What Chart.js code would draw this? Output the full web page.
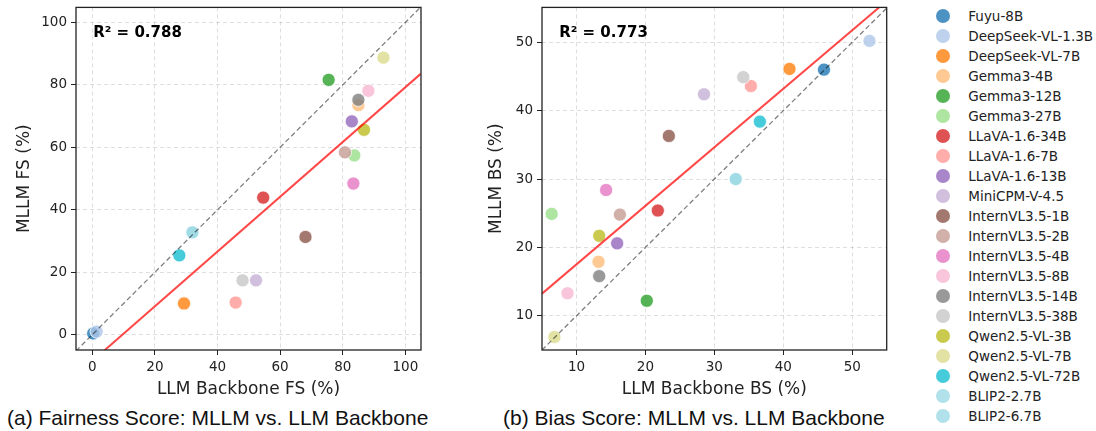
<!DOCTYPE html>
<html><head><meta charset="utf-8">
<script src="https://cdn.jsdelivr.net/npm/chart.js@4.4.1/dist/chart.umd.min.js"></script>
<style>
html,body{margin:0;padding:0;background:#fff;}
body{width:1096px;height:431px;position:relative;overflow:hidden;font-family:"DejaVu Sans",sans-serif;}
canvas{position:absolute;top:0;}
#c1{left:0;}
#c2{left:450px;}
.cap{position:absolute;top:405px;font-family:"Liberation Sans",Arial,sans-serif;font-size:21px;line-height:26px;color:#111;white-space:nowrap;}
#legend{position:absolute;left:930px;top:6px;}
.li{height:20.03px;display:flex;align-items:center;font-size:13.5px;color:#222;white-space:nowrap;}
.mk{width:14px;height:14px;border-radius:50%;margin-left:6.3px;margin-right:18px;flex:none;}
</style></head>
<body>
<canvas id="c1" width="440" height="400"></canvas>
<canvas id="c2" width="450" height="400"></canvas>
<div class="cap" style="left:7px">(a) Fairness Score: MLLM vs. LLM Backbone</div>
<div class="cap" style="left:503px">(b) Bias Score: MLLM vs. LLM Backbone</div>
<div id="legend"></div>
<script>
// ---- data ----
const models = ["Fuyu-8B","DeepSeek-VL-1.3B","DeepSeek-VL-7B","Gemma3-4B","Gemma3-12B","Gemma3-27B",
  "LLaVA-1.6-34B","LLaVA-1.6-7B","LLaVA-1.6-13B","MiniCPM-V-4.5","InternVL3.5-1B","InternVL3.5-2B",
  "InternVL3.5-4B","InternVL3.5-8B","InternVL3.5-14B","InternVL3.5-38B","Qwen2.5-VL-3B","Qwen2.5-VL-7B",
  "Qwen2.5-VL-72B","BLIP2-2.7B","BLIP2-6.7B"];
const colors = ["#1f77b4","#aec7e8","#ff7f0e","#ffbb78","#2ca02c","#98df8a","#d62728","#ff9896","#9467bd",
  "#c5b0d5","#8c564b","#c49c94","#e377c2","#f7b6d2","#7f7f7f","#c7c7c7","#bcbd22","#dbdb8d","#17becf",
  "#9edae5","#9edae5"];
// Fairness Score (%)
const fsBackbone = [0.3,1.4,29.3,85.0,75.5,83.7,54.6,45.8,82.9,52.3,68.1,80.7,83.4,88.2,85.0,48.0,86.8,93.0,27.8,31.9,32.0];
const fsMllm     = [0.4,1.0,10.0,73.5,81.6,57.4,43.9,10.3,68.3,17.4,31.3,58.4,48.4,78.1,75.2,17.4,65.6,88.7,25.4,32.7,32.8];
// Bias Score (%)
const bsBackbone = [45.9,52.5,40.9,13.2,20.2,6.4,21.8,35.3,15.9,28.5,23.4,16.3,14.3,8.7,13.3,34.2,13.3,6.8,36.6,33.1,33.1];
const bsMllm     = [46.0,50.2,46.1,17.9,12.2,24.9,25.4,43.6,20.6,42.4,36.3,24.8,28.4,13.3,15.8,44.9,21.7,6.9,38.4,30.0,30.0];
// regression line endpoints
const fsFitX = [-5.2,105], fsFitY = [-13.0,83.6];
const bsFitX = [5,55],     bsFitY = [13.24,56.04];
// identity line endpoints
const fsDiagX = [-5.2,105], fsDiagY = [-5.2,105];
const bsDiagX = [5,55],     bsDiagY = [5,55];
// axis ranges and ticks
const fsRange = [-5.2,105], fsYRange = [-4.9,104.8];
const bsRange = [5.0,55.0], bsYRange = [5.0,55.1];
const fsTicks = [0,20,40,60,80,100];
const bsTicks = [10,20,30,40,50];
const r2Labels = ["R\u00B2 = 0.788","R\u00B2 = 0.773"];
const axisTitles = ["LLM Backbone FS (%)","MLLM FS (%)","LLM Backbone BS (%)","MLLM BS (%)"];

function rgba(hex,a){const n=parseInt(hex.slice(1),16);return `rgba(${n>>16&255},${n>>8&255},${n&255},${a})`;}

const framePlugin = {
  id:'frame',
  afterDatasetsDraw(chart,args,opts){
    const {ctx, chartArea:a} = chart;
    ctx.save();
    ctx.strokeStyle='#222'; ctx.lineWidth=1.3;
    ctx.strokeRect(a.left,a.top,a.right-a.left,a.bottom-a.top);
    ctx.font='bold 15px "DejaVu Sans"'; ctx.fillStyle='#000'; ctx.textBaseline='alphabetic';
    ctx.fillText(opts.text, a.left+0.05*(a.right-a.left), a.top+0.085*(a.bottom-a.top));
    ctx.restore();
  }
};

function pts(xs,ys){return xs.map((x,i)=>({x:x,y:ys[i]}));}

function makeChart(id,xs,ys,fitX,fitY,diagX,diagY,xr,yr,ticks,xTitle,yTitle,r2,dims){
  const N = models.length;
  const ds = models.map((m,i)=>({
    type:'scatter', label:m, data:[{x:xs[i],y:ys[i]}],
    backgroundColor:rgba(colors[i],0.8), borderColor:'#ffffff', borderWidth:0.8,
    pointRadius:6.6, pointHoverRadius:6.6, order:N-i+2
  }));
  ds.push({type:'line', label:'diag', data:pts(diagX,diagY), showLine:true, borderColor:'rgba(0,0,0,0.5)',
    borderWidth:1.3, borderDash:[5,3], pointRadius:0, fill:false, order:1, clip:0});
  ds.push({type:'line', label:'fit', data:pts(fitX,fitY), showLine:true, borderColor:'rgba(255,0,0,0.72)',
    borderWidth:2, pointRadius:0, fill:false, order:0, clip:0});
  const axisCommon = (range,title,titlePad,fitFn)=>({
    type:'linear', min:range[0], max:range[1],
    afterBuildTicks:s=>{s.ticks = ticks.map(v=>({value:v}));},
    afterFit:fitFn,
    ticks:{font:{family:'DejaVu Sans',size:13.5}, color:'#222', padding:4, maxRotation:0, autoSkip:false, callback:v=>String(v)},
    grid:{color:'rgba(176,176,176,0.42)', lineWidth:1, tickLength:5, tickColor:'#222', tickWidth:1, tickBorderDash:[]},
    border:{display:false, dash:[4,3]},
    title:{display:true, text:title, font:{family:'DejaVu Sans',size:17}, color:'#222', padding:titlePad}
  });
  return new Chart(document.getElementById(id),{
    type:'scatter',
    data:{datasets:ds},
    options:{
      responsive:false, animation:false, events:[],
      layout:{padding:{top:dims.top,right:dims.right,left:0,bottom:0}},
      plugins:{legend:{display:false}, tooltip:{enabled:false}, frame:{text:r2}},
      scales:{
        x:axisCommon(xr,xTitle,{top:0,bottom:0.5},s=>{s.height=dims.xh; s.paddingLeft=0; s.paddingRight=0;}),
        y:axisCommon(yr,yTitle,{top:dims.ytp,bottom:0},s=>{s.width=dims.yw; s.paddingTop=0; s.paddingBottom=0;})
      }
    },
    plugins:[framePlugin]
  });
}

makeChart('c1',fsBackbone,fsMllm,fsFitX,fsFitY,fsDiagX,fsDiagY,fsRange,fsYRange,fsTicks,
  axisTitles[0],axisTitles[1],r2Labels[0],{top:6,right:19,xh:50,yw:76,ytp:14.8});
makeChart('c2',bsBackbone,bsMllm,bsFitX,bsFitY,bsDiagX,bsDiagY,bsRange,bsYRange,bsTicks,
  axisTitles[2],axisTitles[3],r2Labels[1],{top:5.7,right:13.3,xh:50,yw:92,ytp:36.5});

const lg = document.getElementById('legend');
models.forEach((m,i)=>{
  const d=document.createElement('div'); d.className='li';
  const k=document.createElement('span'); k.className='mk'; k.style.background=rgba(colors[i],0.8);
  const t=document.createElement('span'); t.textContent=m;
  d.appendChild(k); d.appendChild(t); lg.appendChild(d);
});
</script>
</body></html>
